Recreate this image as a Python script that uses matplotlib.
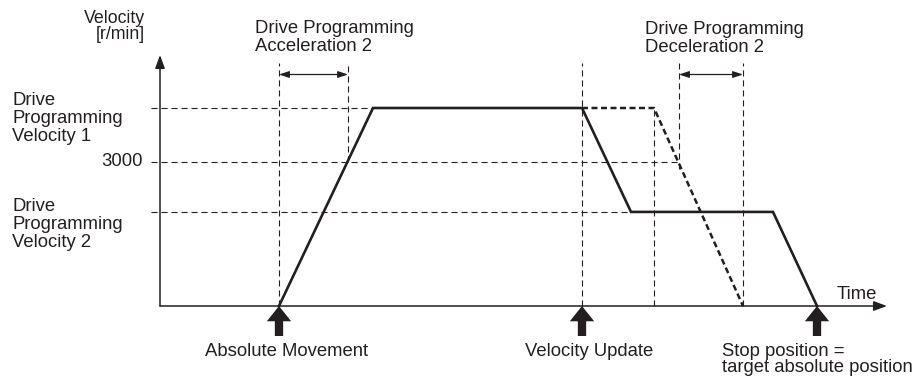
import matplotlib.pyplot as plt

plt.rcParams.update({"font.family": ["Liberation Sans", "DejaVu Sans"], "font.size": 13.3})

INK = "#231f20"

# ---------------------------------------------------------------------------
# Data (time in arbitrary units from the velocity axis, velocity in r/min)
# ---------------------------------------------------------------------------
v_levels = [4125, 3000, 1960]           # Velocity 1, 3000, Velocity 2
v_level_names = ["Drive\nProgramming\nVelocity 1", "3000", "Drive\nProgramming\nVelocity 2"]

# actual profile after the velocity update
actual_t = [119, 213, 422, 471, 613, 657]
actual_v = [0, 4125, 4125, 1960, 1960, 0]

# profile that would have been followed without the update
planned_t = [422, 494, 583]
planned_v = [4125, 4125, 0]

# reference-line end times for each level
level_end_t = [213, 519, 471]

# event times (big arrows under the time axis)
event_t = [119, 422, 657]
event_labels = ["Absolute Movement", "Velocity Update", "Stop position =\ntarget absolute position"]

# dimension intervals: (start, end)
accel_span = (119, 188)
decel_span = (519, 583)

# ---------------------------------------------------------------------------
# Layout helpers (pixel geometry of the 916x383 canvas)
# ---------------------------------------------------------------------------
W, H = 916, 383
X0, Y0 = 160, 306                 # pixel position of the origin
PX_PER_V = 144 / 3000             # pixels per r/min


def fxy(x, y):
    """Pixel position -> figure fraction."""
    return x / W, 1 - y / H


def vpx(py):
    """Pixel row -> velocity value."""
    return (Y0 - py) / PX_PER_V


fig = plt.figure(figsize=(W / 100, H / 100), dpi=100)
ax = fig.add_axes([0, 0, 1, 1])
ax.set_xlim(-X0, W - X0)
ax.set_ylim(vpx(H), vpx(0))
ax.axis("off")

thin = dict(color=INK, lw=0.8, dashes=(5.5, 3.5))
guide_top = vpx(63)
t_left = -9

# horizontal reference lines
for v, t_end in zip(v_levels, level_end_t):
    ax.plot([t_left, t_end], [v, v], **thin)

# vertical guide lines
ax.plot([accel_span[0]] * 2, [0, guide_top], **thin)
ax.plot([accel_span[1]] * 2, [v_levels[1], guide_top], **thin)
ax.plot([event_t[1]] * 2, [0, guide_top], **thin)
ax.plot([planned_t[1]] * 2, [0, planned_v[1]], **thin)
ax.plot([decel_span[0]] * 2, [v_levels[1] - 150, guide_top], **thin)
ax.plot([decel_span[1]] * 2, [0, guide_top], **thin)

# dimension arrows
arrow_v = vpx(74.5)
for a, b in (accel_span, decel_span):
    ax.annotate("", xy=(b, arrow_v), xytext=(a, arrow_v),
                arrowprops=dict(arrowstyle="<|-|>,head_length=0.45,head_width=0.15",
                                color=INK, lw=0.9, shrinkA=0, shrinkB=0))

# velocity profiles
ax.plot(planned_t, planned_v, color=INK, lw=1.8, dashes=(2.4, 1.4), zorder=3)
ax.plot(actual_t, actual_v, color=INK, lw=1.9, solid_joinstyle="miter", zorder=4)

# axes with arrow heads
axis_style = dict(arrowstyle="-|>,head_length=0.6,head_width=0.22",
                  color=INK, lw=1.1, shrinkA=0, shrinkB=0)
ax.annotate("", xy=(0, vpx(55)), xytext=(0, 0), arrowprops=axis_style)
ax.annotate("", xy=(727, 0), xytext=(0, 0), arrowprops=axis_style)

# event arrows below the time axis
for t in event_t:
    ax.annotate("", xy=(t, 0), xytext=(t, vpx(336)),
                arrowprops=dict(arrowstyle="simple,head_length=1.1,head_width=1.75,tail_width=0.6",
                                mutation_scale=10, color=INK, lw=0,
                                shrinkA=0, shrinkB=0))

# ---------------------------------------------------------------------------
# Text (va="baseline" anchors the last line of multi-line labels)
# ---------------------------------------------------------------------------
txt = dict(color=INK, linespacing=1.07)

fig.text(*fxy(145, 39), "Velocity\n[r/min]", ha="right", va="baseline",
         fontsize=12.8, color=INK, linespacing=0.9)
fig.text(*fxy(12, 141), v_level_names[0], ha="left", va="baseline", **txt)
ax.text(-17, v_levels[1], v_level_names[1], ha="right", va="center", color=INK)
fig.text(*fxy(12, 247), v_level_names[2], ha="left", va="baseline", **txt)

fig.text(*fxy(255, 51), "Drive Programming\nAcceleration 2", ha="left", va="baseline", **txt)
fig.text(*fxy(645, 51.5), "Drive Programming\nDeceleration 2", ha="left", va="baseline", **txt)

fig.text(*fxy(837, 299), "Time", ha="left", va="baseline", color=INK)

fig.text(*fxy(287, 356), event_labels[0], ha="center", va="baseline", color=INK)
fig.text(*fxy(589, 356), event_labels[1], ha="center", va="baseline", color=INK)
fig.text(*fxy(722, 372), event_labels[2], ha="left", va="baseline",
         color=INK, linespacing=0.93)

fig.savefig("out.png", dpi=100)
